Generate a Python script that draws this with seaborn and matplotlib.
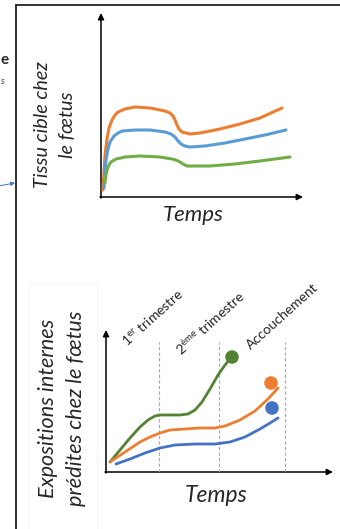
import matplotlib.pyplot as plt
import pandas as pd
import seaborn as sns

sns.set_style("white")
plt.rcParams['font.family'] = ['Lato', 'DejaVu Sans']
plt.rcParams['mathtext.fontset'] = 'custom'
plt.rcParams['mathtext.rm'] = 'Lato'

# --- panneau du haut : tissu cible chez le foetus ---
top_orange_t = [2, 3, 4, 6, 8, 11, 14, 17, 24, 34, 49, 64, 69, 72, 74, 76, 78, 81, 85, 89, 99, 119, 139, 159, 181]
top_orange_v = [7, 25, 42, 58, 69, 77, 82, 85, 88, 90, 89, 86, 84, 81, 77, 72, 68, 65, 64, 63, 64, 68, 73, 79, 89]
top_blue_t = [3, 4, 5, 7, 9, 13, 17, 21, 34, 49, 64, 70, 74, 77, 80, 84, 89, 104, 124, 144, 164, 185]
top_blue_v = [9, 25, 37, 48, 55, 61, 64, 66, 67, 67, 65, 63, 60, 56, 53, 51, 50, 51, 54, 58, 62, 67]
top_green_t = [4, 5, 6, 8, 10, 15, 20, 24, 39, 59, 71, 75, 79, 82, 86, 89, 109, 134, 159, 189]
top_green_v = [14, 22, 27, 32, 35, 38, 39, 40, 41, 40, 38, 37, 35, 33, 31, 31, 31, 33, 36, 40]

# --- panneau du bas : expositions internes predites ---
bot_green_t = [4, 14, 24, 34, 42, 49, 54, 64, 74, 82, 89, 96, 104, 112, 119, 125]
bot_green_v = [10, 22, 34, 45, 52, 56, 57, 57, 57, 58, 62, 70, 83, 97, 107, 114]
bot_orange_t = [4, 19, 34, 44, 54, 64, 79, 94, 109, 119, 134, 149, 162, 172]
bot_orange_v = [10, 20, 30, 35, 39, 42, 43, 44, 44, 46, 52, 61, 73, 84]
bot_blue_t = [10, 24, 39, 54, 69, 89, 109, 124, 139, 154, 164, 172]
bot_blue_v = [8, 13, 19, 24, 27, 28, 28, 30, 35, 43, 49, 54]
dot_series = ['vert', 'orange', 'bleu']
dot_t = [126, 165, 166]
dot_v = [115, 89, 64]
periodes = [53, 113, 179]
periode_labels = [r'1$^{\rm er}$ trimestre', r'2$^{\rm ème}$ trimestre', 'Accouchement']

ORANGE = '#ED7D31'
top_palette = {'orange': ORANGE, 'bleu': '#5B9BD5', 'vert': '#70AD47'}
bot_palette = {'orange': ORANGE, 'bleu': '#4472C4', 'vert': '#548235'}


def long_df(series):
    rows = []
    for name, t, v in series:
        rows += [{'serie': name, 't': a, 'v': b} for a, b in zip(t, v)]
    return pd.DataFrame(rows)


df_top = long_df([('orange', top_orange_t, top_orange_v),
                  ('bleu', top_blue_t, top_blue_v),
                  ('vert', top_green_t, top_green_v)])
df_bot = long_df([('vert', bot_green_t, bot_green_v),
                  ('orange', bot_orange_t, bot_orange_v),
                  ('bleu', bot_blue_t, bot_blue_v)])
df_dots = pd.DataFrame({'serie': dot_series, 't': dot_t, 'v': dot_v})

fig = plt.figure(figsize=(3.4, 5.29), dpi=100)

# fond en coordonnees pixels : cadre, fleches d'axes, textes
bg = fig.add_axes([0, 0, 1, 1])
bg.set_xlim(0, 340)
bg.set_ylim(529, 0)
bg.axis('off')
bg.plot([16, 16], [529, 5], color='#222222', lw=1.3)
bg.plot([16, 340], [5, 5], color='#222222', lw=1.3)
bg.add_patch(plt.Rectangle((29, 283), 68, 250, fill=False, ec='#f6f6f6', lw=0.8))

arrow = dict(arrowstyle='-|>', color='black', lw=1.1, mutation_scale=9, shrinkA=0, shrinkB=0)
bg.annotate('', xy=(101, 13), xytext=(101, 198), arrowprops=arrow)
bg.annotate('', xy=(303, 197), xytext=(100, 197), arrowprops=arrow)
bg.annotate('', xy=(106, 330), xytext=(106, 473), arrowprops=arrow)
bg.annotate('', xy=(333, 472), xytext=(105, 472), arrowprops=arrow)

# fragments coupes a gauche
bg.text(0.5, 60, 'e', fontsize=11, fontweight='bold', ha='left', va='center')
bg.text(1, 82, 's', fontsize=7, style='italic', color='#444444', ha='left', va='center')
bg.annotate('', xy=(15, 183), xytext=(-2, 186),
            arrowprops=dict(arrowstyle='-|>', color='#4472C4', lw=0.7, mutation_scale=6, shrinkA=0, shrinkB=0))

bg.text(55, 125, 'Tissu cible chez\nle fœtus', rotation=90, style='italic', fontsize=14.3,
        ha='center', va='center', linespacing=1.55, multialignment='center')
bg.text(193, 215, 'Temps', style='italic', fontsize=16, ha='center', va='center')
bg.text(62, 408, 'Expositions internes\nprédites chez le fœtus', rotation=90, style='italic',
        fontsize=15.6, ha='center', va='center', linespacing=1.45, multialignment='center')
bg.text(216, 495, 'Temps', style='italic', fontsize=16.5, ha='center', va='center')

label_pos = [(128, 347), (182, 357), (251, 350)]
for (x, y), lab in zip(label_pos, periode_labels):
    bg.text(x, y, lab, rotation=42, rotation_mode='anchor', ha='left', va='baseline', fontsize=10)

# panneau du haut
ax1 = fig.add_axes([101 / 340, 1 - 197 / 529, 199 / 340, 182 / 529])
ax1.patch.set_alpha(0)
sns.lineplot(data=df_top, x='t', y='v', hue='serie', palette=top_palette, estimator=None,
             legend=False, lw=2.2, ax=ax1)
ax1.set_xlim(0, 199)
ax1.set_ylim(0, 182)
ax1.axis('off')

# panneau du bas
ax2 = fig.add_axes([106 / 340, 1 - 472 / 529, 224 / 340, 140 / 529])
ax2.patch.set_alpha(0)
ax2.vlines(periodes, 0, 130, colors='#a0a8b8', linestyles=(0, (3, 2)), lw=0.8)
sns.lineplot(data=df_bot, x='t', y='v', hue='serie', palette=bot_palette, estimator=None,
             legend=False, lw=2.0, ax=ax2)
sns.scatterplot(data=df_dots, x='t', y='v', hue='serie', palette=bot_palette, s=95,
                linewidth=0, legend=False, ax=ax2)
ax2.set_xlim(0, 224)
ax2.set_ylim(0, 140)
ax2.axis('off')

fig.savefig('out.png', dpi=100)
